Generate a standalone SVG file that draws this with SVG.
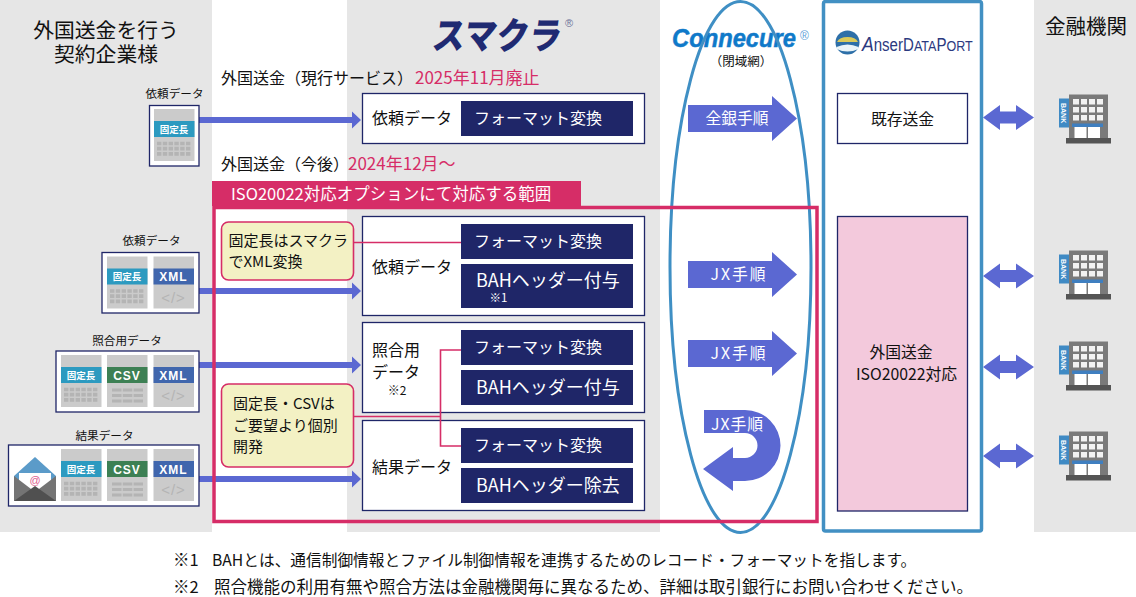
<svg xmlns="http://www.w3.org/2000/svg" xmlns:xlink="http://www.w3.org/1999/xlink" width="1136" height="597" viewBox="0 0 1136 597">
<style>
text{font-family:"Noto Sans CJK JP","Noto Sans",sans-serif;fill:#111}
.en{font-family:"Liberation Sans",sans-serif}
.m{text-anchor:middle}
.h{font-size:20.800px}
.s{font-size:16px}
.p{fill:#d62d67;font-size:17px}
.l{font-size:11.600px}
.b{font-size:16px}
.w{fill:#fff}
.n{font-size:16px;fill:#fff}
.t{font-size:15px;fill:#111}
.c{font-size:15.800px;fill:#fff}
.a{font-size:15.800px}
.bah{font-size:18px;fill:#fff}
.dl{font-size:9.500px;font-weight:700;fill:#fff}
.dx{font-size:12px;font-weight:700;fill:#fff;letter-spacing:1px;font-family:"Liberation Sans",sans-serif}
.xt{font-size:15px;fill:#b4b4b4;font-family:"Liberation Sans",sans-serif;letter-spacing:1px}
.box{fill:#fff;stroke:#1f2668;stroke-width:1.300}
.navy{fill:#1f2668}
.note{fill:#f3f1c4;stroke:#d62d67;stroke-width:1.600}
.pl{fill:none;stroke:#d62d67;stroke-width:1.600}
.arr{fill:#5b68d2}
.foot{font-size:16.500px}
.foot1{font-size:15.700px}
.bk{font-size:7px;font-weight:700;fill:#fff}
</style>
<defs>
<g id="d"><rect width="40.500" height="52" fill="#cbcbcb"/></g>
<g id="grid"><path d="M3 34.500H37M3 39.700H37M3 44.900H37" fill="none" stroke="#b4b4b4" stroke-width="3.700" stroke-dasharray="4.400 1.400"/></g>
<g id="csv"><path d="M5 35H36M5 40.500H36M5 46H36" fill="none" stroke="#b4b4b4" stroke-width="3.200" stroke-dasharray="9.500 1.300"/></g>
<path id="a" d="M0 -3H153V-8.500L162 0L153 8.500V3H0Z" class="arr"/>
<path id="big" d="M0 -13.500H84V-22.500L109 0L84 22.500V13.500H0Z" class="arr"/>
<path id="dbl" d="M0 0L17 -12.500V-6H33V-12.500L51 0L33 12.500V6H17V12.500Z" class="arr"/>
<g id="bld">
<rect x="10" y="0.500" width="39" height="44" fill="#7a7a7a"/>
<rect x="0" y="4.500" width="10" height="29" fill="#3f8ac4"/>
<path d="M14 5h6v5.500h-6zM22 5h6v5.500h-6zM30 5h6v5.500h-6zM38 5h6v5.500h-6zM14 13h6v5.500h-6zM22 13h6v5.500h-6zM30 13h6v5.500h-6zM38 13h6v5.500h-6zM14 21h6v5.500h-6zM22 21h6v5.500h-6zM30 21h6v5.500h-6zM38 21h6v5.500h-6z" fill="#f2f2f2"/>
<rect x="13" y="29.500" width="31" height="3.500" fill="#3f7fc0"/>
<rect x="15.500" y="33" width="12" height="11" fill="#fff"/><rect x="29" y="33" width="12" height="11" fill="#fff"/>
<rect x="7" y="44" width="45" height="5.500" fill="#555"/>
</g>
</defs>

<g id="backgrounds">
<rect x="0" y="0" width="212" height="532" fill="#e6e6e6"/>
<rect x="347" y="0" width="313" height="532" fill="#e6e6e6"/>
<rect x="1034" y="0" width="102" height="532" fill="#e6e6e6"/>
</g>

<g id="headings">
<text class="h m" x="106" y="37.500">外国送金を行う</text>
<text class="h m" x="106" y="62">契約企業様</text>
<text class="m" x="1086" y="34" style="font-size:20.500px">金融機関</text>
<text x="221" y="84" class="s">外国送金（現行サービス）</text>
<text x="415" y="84" class="p">2025年11月廃止</text>
<text x="221" y="170" class="s">外国送金（今後）</text>
<text x="348" y="170" class="p">2024年12月～</text>
</g>

<g id="logos">
<text transform="translate(431 49) skewX(-8)" style="font-size:37px;font-weight:900;fill:#1f2a72" textLength="129" lengthAdjust="spacingAndGlyphs">スマクラ</text>
<text x="565" y="27" style="font-size:11px;fill:#6d7399" class="en">®</text>
<text x="672" y="47" class="en" style="font-size:26px;font-weight:700;font-style:italic;fill:#0f79c9;stroke:#0f79c9;stroke-width:.5" textLength="124" lengthAdjust="spacingAndGlyphs">Connecure</text>
<text x="800" y="40" class="en" style="font-size:12px;fill:#5aa0d8">®</text>
<text x="741" y="66" class="m" style="font-size:12.500px">（閉域網）</text>
<g id="anser-mark"><circle cx="847.500" cy="42.500" r="12" fill="#2d6fa8"/><path d="M837 42a11 7 0 0 1 21 0Z" fill="#d9c95a"/><path d="M836.500 47q11 -5 22 0v2q-11 5 -22 0Z" fill="#eaf4f8"/></g>
<text transform="translate(862 51) scale(.837 1)" class="en" style="fill:#2b3a80;font-size:15px"><tspan style="font-size:21px;font-style:italic">A</tspan><tspan style="font-size:18px">nserD</tspan>ATA<tspan style="font-size:18px">P</tspan>ORT</text>
</g>

<g id="connectors">
<use xlink:href="#a" href="#a" x="199" y="120"/>
<use xlink:href="#a" href="#a" x="199" y="291"/>
<use xlink:href="#a" href="#a" x="199" y="365"/>
<use xlink:href="#a" href="#a" x="199" y="479"/>
<use xlink:href="#big" href="#big" x="688" y="118.500"/>
<use xlink:href="#big" href="#big" x="688" y="274.500"/>
<use xlink:href="#big" href="#big" x="688" y="353.500"/>
<path id="uturn" class="arr" d="M704 410H745A35.500 35.500 0 0 1 745 481H733V491L703 469L733 447V458H745A12.500 12.500 0 0 0 745 433H704Z"/>
<use xlink:href="#dbl" href="#dbl" x="983" y="117.500"/>
<use xlink:href="#dbl" href="#dbl" x="983" y="276"/>
<use xlink:href="#dbl" href="#dbl" x="983" y="367"/>
<use xlink:href="#dbl" href="#dbl" x="983" y="456"/>
</g>

<g id="data-top">
<text class="l m" x="174.500" y="98">依頼データ</text>
<rect class="box" x="149.500" y="105.500" width="49.500" height="60.500"/>
<g transform="translate(154 109)"><use xlink:href="#d" href="#d"/><rect y="12" width="40.500" height="16" fill="#2c9ac0"/><use xlink:href="#grid" href="#grid"/><text class="dl m" x="20" y="23.500">固定長</text></g>
</g>
<g id="data-request">
<text class="l m" x="151.500" y="245">依頼データ</text>
<rect class="box" x="102" y="252.500" width="97" height="60.500"/>
<g transform="translate(107 256.500)"><use xlink:href="#d" href="#d"/><rect y="12" width="40.500" height="16" fill="#2c9ac0"/><use xlink:href="#grid" href="#grid"/><text class="dl m" x="20" y="23.500">固定長</text></g>
<g transform="translate(153.500 256.500)"><use xlink:href="#d" href="#d"/><rect y="12" width="40.500" height="16" fill="#4066ad"/><text class="dx m" x="20" y="24.500">XML</text><text class="xt m" x="20" y="46">&lt;/&gt;</text></g>
</g>
<g id="data-match">
<text class="l m" x="127" y="345">照合用データ</text>
<rect class="box" x="56" y="351" width="143" height="61"/>
<g transform="translate(61 355)"><use xlink:href="#d" href="#d"/><rect y="12" width="40.500" height="16" fill="#2c9ac0"/><use xlink:href="#grid" href="#grid"/><text class="dl m" x="20" y="23.500">固定長</text></g>
<g transform="translate(107 355)"><use xlink:href="#d" href="#d"/><rect y="12" width="40.500" height="16" fill="#3d8054"/><use xlink:href="#csv" href="#csv"/><text class="dx m" x="20" y="24.500">CSV</text></g>
<g transform="translate(153.500 355)"><use xlink:href="#d" href="#d"/><rect y="12" width="40.500" height="16" fill="#4066ad"/><text class="dx m" x="20" y="24.500">XML</text><text class="xt m" x="20" y="46">&lt;/&gt;</text></g>
</g>
<g id="data-result">
<text class="l m" x="104.500" y="440">結果データ</text>
<rect class="box" x="8.500" y="445" width="190.500" height="61"/>
<g id="mail">
<path d="M14 476L35 457L56 476V501H14Z" fill="#5b9bc9"/>
<path d="M19 473H51V486L35 492L19 486Z" fill="#fff"/>
<path d="M14 476L35 492L56 476V501H14Z" fill="#747474"/>
<path d="M14 501L35 486L56 501Z" fill="#505050"/>
<text class="en m" x="35" y="484" style="font-size:11px;fill:#e0608f">@</text>
</g>
<g transform="translate(61 449)"><use xlink:href="#d" href="#d"/><rect y="12" width="40.500" height="16" fill="#2c9ac0"/><use xlink:href="#grid" href="#grid"/><text class="dl m" x="20" y="23.500">固定長</text></g>
<g transform="translate(107 449)"><use xlink:href="#d" href="#d"/><rect y="12" width="40.500" height="16" fill="#3d8054"/><use xlink:href="#csv" href="#csv"/><text class="dx m" x="20" y="24.500">CSV</text></g>
<g transform="translate(153.500 449)"><use xlink:href="#d" href="#d"/><rect y="12" width="40.500" height="16" fill="#4066ad"/><text class="dx m" x="20" y="24.500">XML</text><text class="xt m" x="20" y="46">&lt;/&gt;</text></g>
</g>

<g id="sumacra-current">
<rect class="box" x="362.500" y="93.500" width="282" height="50"/>
<text class="b" x="372" y="124">依頼データ</text>
<rect class="navy" x="461" y="101" width="172" height="35"/>
<text class="n" x="474" y="123.500">フォーマット変換</text>
</g>
<g id="sumacra-request">
<rect class="box" x="362.500" y="216.500" width="282" height="99"/>
<text class="b" x="372" y="272.500">依頼データ</text>
<rect class="navy" x="461" y="224" width="172" height="35"/>
<text class="n" x="474" y="246.500">フォーマット変換</text>
<rect class="navy" x="461" y="264" width="172" height="44"/>
<text class="bah" x="476" y="287">BAHヘッダー付与</text>
<text class="m w" x="498.500" y="302" style="font-size:11.500px">※1</text>
</g>
<g id="sumacra-match">
<rect class="box" x="362.500" y="322.500" width="282" height="90"/>
<text class="b" x="372" y="356">照合用</text>
<text class="b" x="372" y="378">データ</text>
<text x="397" y="395" class="m" style="font-size:12px">※2</text>
<rect class="navy" x="461" y="330" width="172" height="35"/>
<text class="n" x="474" y="352.500">フォーマット変換</text>
<rect class="navy" x="461" y="370" width="172" height="35"/>
<text class="bah" x="476" y="393.500">BAHヘッダー付与</text>
</g>
<g id="sumacra-result">
<rect class="box" x="362.500" y="420.500" width="282" height="90"/>
<text class="b" x="372" y="472.500">結果データ</text>
<rect class="navy" x="461" y="428" width="172" height="35"/>
<text class="n" x="474" y="450.500">フォーマット変換</text>
<rect class="navy" x="461" y="468" width="172" height="35"/>
<text class="bah" x="476" y="491.500">BAHヘッダー除去</text>
</g>

<g id="connecure">
<ellipse cx="740.500" cy="267" rx="70.500" ry="265.500" fill="none" stroke="#3f8fc4" stroke-width="3"/>
<text class="c m" x="737" y="124">全銀手順</text>
<text class="c m" x="738" y="280" textLength="55">JX手順</text>
<text class="c m" x="738" y="359" textLength="55">JX手順</text>
<text class="c m" x="737" y="429.500" textLength="52">JX手順</text>
</g>

<g id="scope">
<rect x="214" y="207.500" width="603" height="314" fill="none" stroke="#d62d67" stroke-width="3.500"/>
<rect x="212" y="181" width="369" height="25" fill="#d62d67"/>
<text x="231" y="199.500" class="w" style="font-size:16.500px">ISO20022対応オプションにて対応する範囲</text>
</g>

<g id="note-connectors">
<path class="pl" d="M353 242.500H461"/>
<path class="pl" d="M353 416.500H440.500M461 350H440.500V446H461"/>
</g>

<g id="note-1">
<rect class="note" x="221.500" y="222" width="132" height="58" rx="7"/>
<text class="t" x="228.500" y="246">固定長はスマクラ</text>
<text class="t" x="228.500" y="267">でXML変換</text>
</g>
<g id="note-2">
<rect class="note" x="221.500" y="384" width="132" height="83" rx="7"/>
<text class="t" x="233" y="409">固定長・CSVは</text>
<text class="t" x="233" y="431">ご要望より個別</text>
<text class="t" x="233" y="452">開発</text>
</g>

<g id="anser">
<rect x="823.500" y="1.500" width="158" height="529.500" rx="2" fill="none" stroke="#4290c3" stroke-width="3.500"/>
<rect class="box" x="837.500" y="93.500" width="130" height="50"/>
<text class="a m" x="902.500" y="124.500">既存送金</text>
<rect class="box" x="837.500" y="216.500" width="130" height="294.500" style="fill:#f3c9dc"/>
<text class="a m" x="901" y="358">外国送金</text>
<text class="a m" x="906.500" y="380">ISO20022対応</text>
</g>

<g id="bank-1"><use xlink:href="#bld" href="#bld" x="1059" y="94"/><text class="bk en" transform="translate(1061 103) rotate(90)">BANK</text></g>
<g id="bank-2"><use xlink:href="#bld" href="#bld" x="1059" y="250"/><text class="bk en" transform="translate(1061 259) rotate(90)">BANK</text></g>
<g id="bank-3"><use xlink:href="#bld" href="#bld" x="1059" y="341"/><text class="bk en" transform="translate(1061 350) rotate(90)">BANK</text></g>
<g id="bank-4"><use xlink:href="#bld" href="#bld" x="1059" y="431"/><text class="bk en" transform="translate(1061 440) rotate(90)">BANK</text></g>

<g id="footnotes">
<text class="foot" x="173" y="566">※1<tspan class="foot1" x="212">BAHとは、通信制御情報とファイル制御情報を連携するためのレコード・フォーマットを指します。</tspan></text>
<text class="foot" x="173" y="593">※2<tspan x="214">照合機能の利用有無や照合方法は金融機関毎に異なるため、詳細は取引銀行にお問い合わせください。</tspan></text>
</g>
</svg>
